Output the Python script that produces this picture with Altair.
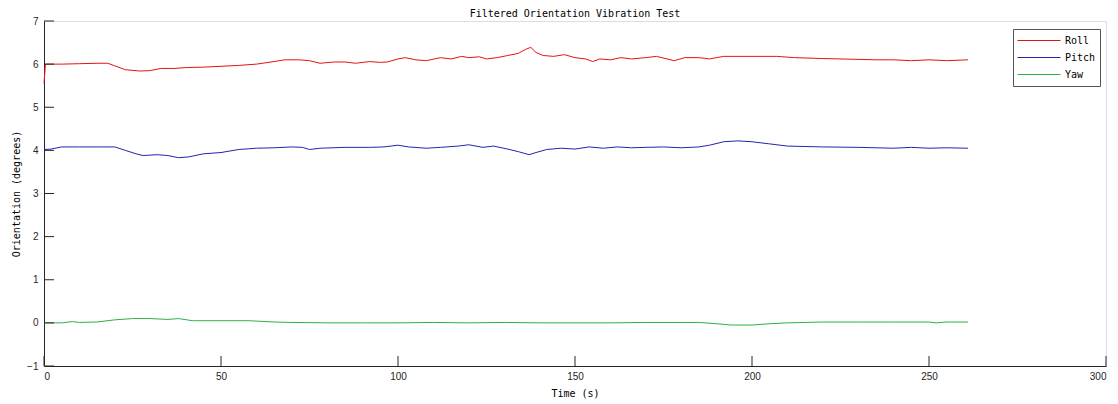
import altair as alt
import pandas as pd

# Filtered roll / pitch / yaw readings (degrees) over time (s)
roll_t = [0, 0.4, 5, 10, 15, 18, 20, 23, 27, 30, 33, 37, 40, 45, 50, 55, 60, 65, 68, 72, 75, 78,
          82, 85, 88, 92, 95, 97, 100, 102, 105, 108, 112, 115, 118, 120, 123, 125, 128, 131,
          134, 136, 137.5, 139, 141, 144, 147, 150, 153, 155, 157, 160, 163, 166, 170, 173,
          176, 178, 181, 185, 188, 192, 200, 207, 212, 220, 230, 235, 240, 245, 250, 255, 261]
roll_v = [5.55, 6.0, 6.0, 6.01, 6.02, 6.02, 5.96, 5.87, 5.84, 5.85, 5.9, 5.9, 5.92, 5.93, 5.95,
          5.97, 6.0, 6.06, 6.1, 6.1, 6.08, 6.02, 6.05, 6.05, 6.02, 6.06, 6.04, 6.05, 6.12, 6.15,
          6.1, 6.08, 6.15, 6.12, 6.18, 6.15, 6.17, 6.12, 6.15, 6.2, 6.25, 6.34, 6.39, 6.27, 6.2,
          6.18, 6.22, 6.15, 6.12, 6.06, 6.12, 6.1, 6.15, 6.12, 6.15, 6.18, 6.12, 6.08, 6.15,
          6.15, 6.12, 6.18, 6.18, 6.18, 6.15, 6.13, 6.11, 6.1, 6.1, 6.08, 6.1, 6.08, 6.1]

pitch_t = [0, 2, 5, 10, 15, 20, 23, 26, 28, 32, 35, 38, 41, 45, 50, 55, 60, 65, 70, 73, 75, 78,
           85, 92, 96, 100, 103, 108, 112, 117, 120, 124, 127, 131, 134, 137, 139, 142, 146,
           150, 154, 158, 162, 166, 170, 175, 180, 185, 188, 192, 196, 200, 205, 210, 220, 230,
           240, 245, 250, 255, 261]
pitch_v = [4.02, 4.03, 4.08, 4.08, 4.08, 4.08, 4.0, 3.92, 3.88, 3.9, 3.88, 3.83, 3.85, 3.92,
           3.95, 4.02, 4.05, 4.06, 4.08, 4.07, 4.02, 4.05, 4.07, 4.07, 4.08, 4.12, 4.08, 4.05,
           4.07, 4.1, 4.13, 4.07, 4.1, 4.03, 3.97, 3.9, 3.95, 4.02, 4.05, 4.03, 4.08, 4.05,
           4.08, 4.06, 4.07, 4.08, 4.06, 4.08, 4.12, 4.2, 4.22, 4.2, 4.15, 4.1, 4.08, 4.07,
           4.05, 4.07, 4.05, 4.06, 4.05]

yaw_t = [0, 5, 8, 10, 15, 20, 25, 30, 35, 38, 42, 50, 58, 65, 70, 80, 90, 100, 110, 120, 130,
         140, 150, 160, 170, 180, 185, 190, 194, 200, 205, 210, 215, 220, 230, 240, 250, 252,
         255, 261]
yaw_v = [0.0, 0.0, 0.03, 0.01, 0.02, 0.07, 0.1, 0.1, 0.08, 0.1, 0.05, 0.05, 0.05, 0.02, 0.01,
         0.0, 0.0, 0.0, 0.01, 0.0, 0.01, 0.0, 0.0, 0.0, 0.01, 0.01, 0.01, -0.02, -0.05, -0.05,
         -0.02, 0.0, 0.01, 0.02, 0.02, 0.02, 0.02, 0.0, 0.02, 0.02]

series_names = ["Roll", "Pitch", "Yaw"]
series_colors = ["#e01414", "#2424b0", "#2fb044"]

x_ticks = [0, 50, 100, 150, 200, 250, 300]
y_ticks = [-1, 0, 1, 2, 3, 4, 5, 6, 7]

rows = []
for name, ts, vs in [("Roll", roll_t, roll_v), ("Pitch", pitch_t, pitch_v), ("Yaw", yaw_t, yaw_v)]:
    for i, (t, v) in enumerate(zip(ts, vs)):
        rows.append({"time": t, "value": v, "series": name, "order": i})
df = pd.DataFrame(rows)

W, H = 1062, 345
MONO = "DejaVu Sans Mono"
SANS = "Liberation Sans"
AXIS_COLOR = "#262626"

x_scale = alt.Scale(domain=[0, 300], nice=False, zero=False)
y_scale = alt.Scale(domain=[-1, 7], nice=False, zero=False)

lines = alt.Chart(df).mark_line(strokeWidth=1, interpolate="linear").encode(
    x=alt.X("time:Q", scale=x_scale,
            axis=alt.Axis(values=x_ticks, title="Time (s)", ticks=False, grid=False,
                          labelFont=SANS, labelFontSize=10, labelColor=AXIS_COLOR,
                          labelPadding=5, domainColor=AXIS_COLOR, titleFont=MONO,
                          titleFontSize=10, titleFontWeight="normal", titleColor="#000",
                          titlePadding=7)),
    y=alt.Y("value:Q", scale=y_scale,
            axis=alt.Axis(values=y_ticks, title="Orientation (degrees)", ticks=False,
                          grid=False, labelFont=SANS, labelFontSize=10,
                          labelColor=AXIS_COLOR, labelPadding=6, domainColor=AXIS_COLOR,
                          titleFont=MONO, titleFontSize=10, titleFontWeight="normal",
                          titleColor="#000", titlePadding=5)),
    color=alt.Color("series:N", scale=alt.Scale(domain=series_names, range=series_colors),
                    sort=series_names,
                    legend=alt.Legend(title=None, orient="none", legendX=969, legendY=8,
                                      symbolType="stroke", symbolSize=1849,
                                      symbolStrokeWidth=1, clipHeight=15,
                                      labelFont=MONO, labelFontSize=10,
                                      labelColor="#000", strokeColor="#555",
                                      fillColor="white", padding=4, rowPadding=2,
                                      labelOffset=4)),
    detail="series:N",
    order="order:Q",
)

# inward tick marks on the bottom and left axes
xtick_df = pd.DataFrame({"t": x_ticks})
ytick_df = pd.DataFrame({"v": y_ticks})
xticks = alt.Chart(xtick_df).mark_rule(color=AXIS_COLOR, strokeWidth=1).encode(
    x=alt.X("t:Q", scale=x_scale), y=alt.value(H), y2=alt.value(H - 10))
yticks = alt.Chart(ytick_df).mark_rule(color=AXIS_COLOR, strokeWidth=1).encode(
    y=alt.Y("v:Q", scale=y_scale), x=alt.value(0), x2=alt.value(10))

chart = alt.layer(lines, xticks, yticks).properties(
    width=W, height=H,
    title=alt.TitleParams("Filtered Orientation Vibration Test", font=MONO, fontSize=10,
                          fontWeight="normal", color="#000", offset=-3, anchor="middle"),
    padding={"left": 44, "top": 21, "right": 12, "bottom": 38},
    autosize=alt.AutoSizeParams(type="none"),
).configure_view(stroke=None).configure(background="white")

chart.save("out.html", embed_options={"renderer": "svg", "actions": False})
